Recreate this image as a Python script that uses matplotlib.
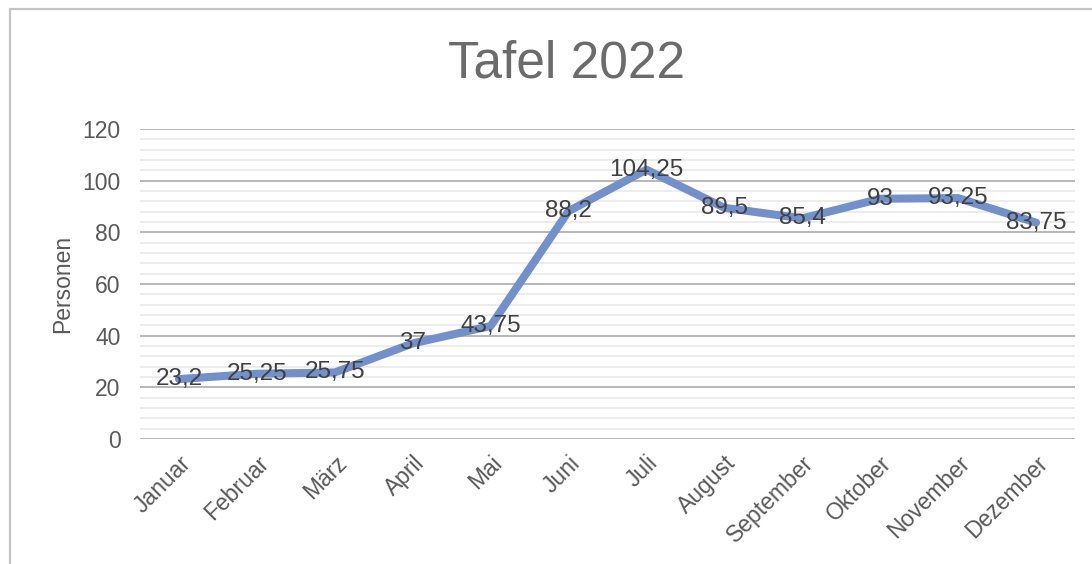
import matplotlib
matplotlib.use("Agg")
import matplotlib.pyplot as plt
from matplotlib.patches import Rectangle
from matplotlib.ticker import MultipleLocator

months = ["Januar", "Februar", "März", "April", "Mai", "Juni", "Juli",
          "August", "September", "Oktober", "November", "Dezember"]
values = [23.2, 25.25, 25.75, 37, 43.75, 88.2, 104.25, 89.5, 85.4, 93, 93.25, 83.75]
labels = ["23,2", "25,25", "25,75", "37", "43,75", "88,2", "104,25",
          "89,5", "85,4", "93", "93,25", "83,75"]
title = "Tafel 2022"
ylabel = "Personen"

plt.rcParams['font.family'] = ['Liberation Sans', 'DejaVu Sans']

W, H = 1092, 564
fig = plt.figure(figsize=(W / 100, H / 100), dpi=100)
fig.patch.set_facecolor("white")

# outer chart border
fig.patches.append(Rectangle((9.5 / W, -0.1), 1.2, 1 - 9.5 / H + 0.1,
                             transform=fig.transFigure, fill=False,
                             edgecolor="#c4c4c4", linewidth=1.6, zorder=0))

ax = fig.add_axes([140 / W, 1 - 439 / H, (1075 - 140) / W, (439 - 129) / H])
x = list(range(len(months)))
ax.plot(x, values, color="#7290cb", linewidth=5.8, solid_capstyle="round",
        solid_joinstyle="round", zorder=3)

for xi, v, lab in zip(x, values, labels):
    ax.text(xi, v, lab, ha="center", va="center", fontsize=17.5,
            color="#404040", zorder=4)

ax.set_xlim(-0.5, len(months) - 0.5)
ax.set_ylim(0, 120)
ax.yaxis.set_major_locator(MultipleLocator(20))
ax.yaxis.set_minor_locator(MultipleLocator(4))
ax.grid(axis="y", which="major", color="#b8b8b8", linewidth=1.4, zorder=1)
ax.grid(axis="y", which="minor", color="#ececec", linewidth=1.4, zorder=1)
ax.set_axisbelow(True)
for s in ax.spines.values():
    s.set_visible(False)
ax.tick_params(axis="both", which="both", length=0)
ax.tick_params(axis="y", labelsize=16.5, labelcolor="#595959", pad=14)
ax.set_xticks(x)
ax.set_xticklabels(months, rotation=45, ha="right", rotation_mode="anchor",
                   fontsize=16.5, color="#595959")
ax.tick_params(axis="x", pad=9)
ax.set_ylabel(ylabel, fontsize=16.5, color="#595959", labelpad=6)

fig.text(567 / W, 1 - 64 / H, title, ha="center", va="center", fontsize=37,
         color="#6b6b6b")

fig.savefig("out.png", dpi=100, facecolor="white")
